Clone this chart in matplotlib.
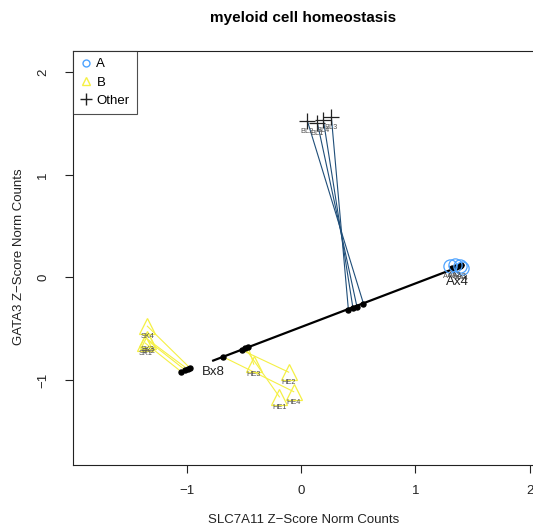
import matplotlib
matplotlib.use("Agg")
import matplotlib.pyplot as plt
from matplotlib.lines import Line2D

plt.rcParams["font.family"] = ["Liberation Sans", "DejaVu Sans"]

# samples: group, label, position, fitted position on the curve
groups = ["A", "A", "A", "A",
          "B", "B", "B", "B", "B", "B", "B", "B",
          "Other", "Other", "Other", "Other"]
sample_labels = ["AA1", "AA2", "AA3", "AA4",
                 "SK4", "SK3", "SK2", "SK1", "HE3", "HE2", "HE1", "HE4",
                 "BL2", "BL1", "BL4", "BL3"]
slc7a11 = [1.30, 1.35, 1.39, 1.41,
           -1.346, -1.346, -1.337, -1.364, -0.415, -0.109, -0.190, -0.065,
           0.055, 0.143, 0.195, 0.265]
gata3 = [0.11, 0.12, 0.11, 0.09,
         -0.475, -0.601, -0.620, -0.640, -0.845, -0.923, -1.164, -1.113,
         1.526, 1.504, 1.533, 1.562]
fit_x = [1.32, 1.36, 1.39, 1.40,
         -0.969, -0.993, -1.013, -1.048, -0.464, -0.517, -0.488, -0.683,
         0.546, 0.489, 0.454, 0.414]
fit_y = [0.09, 0.10, 0.11, 0.12,
         -0.887, -0.894, -0.904, -0.920, -0.676, -0.709, -0.692, -0.774,
         -0.255, -0.285, -0.299, -0.314]

# principal curve
curve_x = [-0.77, 1.42]
curve_y = [-0.81, 0.12]
curve_labels = ["Bx8", "Ax4"]

marker_col = {"A": "#4DA3FF", "B": "#F5F044", "Other": "#222222"}
line_col = {"A": "#3C78C8", "B": "#F5F044", "Other": "#1F4E79"}
marker = {"A": "o", "B": "^", "Other": "+"}
msize = {"A": 9.5, "B": 11, "Other": 12}

fig = plt.figure(figsize=(5.33, 5.31), dpi=100)
ax = fig.add_axes([72.7 / 533, 66 / 531, 462.3 / 533, 414 / 531])

for g, x0, y0, x1, y1 in zip(groups, slc7a11, gata3, fit_x, fit_y):
    ax.plot([x0, x1], [y0, y1], color=line_col[g], lw=0.8, zorder=2)

ax.plot(curve_x, curve_y, color="black", lw=1.6, zorder=3)
ax.plot(fit_x, fit_y, "o", color="black", ms=3.6, zorder=4)

for g in ["A", "B", "Other"]:
    xs = [x for x, gg in zip(slc7a11, groups) if gg == g]
    ys = [y for y, gg in zip(gata3, groups) if gg == g]
    ax.plot(xs, ys, marker[g], ms=msize[g], mfc="none", mec=marker_col[g],
            mew=0.9, color=marker_col[g], zorder=5)

for lab, x, y in zip(sample_labels, slc7a11, gata3):
    ax.annotate(lab, (x, y), xytext=(0, -7.5), textcoords="offset points",
                ha="center", va="center", fontsize=5.3, color="#505050", zorder=6)

ax.annotate(curve_labels[0], (curve_x[0], curve_y[0]), xytext=(0, -8),
            textcoords="offset points", ha="center", va="center",
            fontsize=9.5, color="#222222", zorder=6)
ax.annotate(curve_labels[1], (curve_x[1], curve_y[1]), xytext=(-4, -12),
            textcoords="offset points", ha="center", va="center",
            fontsize=9.5, color="#222222", zorder=6)

ax.set_xlim(-2.0, 2.048)
ax.set_ylim(-1.828, 2.208)
ax.set_xticks([-1, 0, 1, 2])
ax.set_yticks([-1, 0, 1, 2])
ax.tick_params(axis="both", direction="out", length=5.8, width=0.8,
               labelsize=9.5, colors="#222222")
ax.tick_params(axis="x", pad=8.5)
ax.tick_params(axis="y", pad=11)
for lab in ax.get_yticklabels():
    lab.set_rotation(90)
    lab.set_va("center")
for sp in ax.spines.values():
    sp.set_linewidth(0.8)
    sp.set_color("#222222")

fig.text(303.5 / 533, 1 - 18 / 531, "myeloid cell homeostasis", ha="center",
         va="center", fontsize=11, fontweight="bold")
fig.text(303.7 / 533, 1 - 520 / 531, "SLC7A11 Z\u2212Score Norm Counts",
         ha="center", va="center", fontsize=9.5, color="#222222")
fig.text(18.8 / 533, 1 - 257 / 531, "GATA3 Z\u2212Score Norm Counts",
         ha="center", va="center", rotation=90, fontsize=9.5, color="#222222")

handles = [
    Line2D([], [], ls="none", marker="o", ms=5, mfc="none", mec=marker_col["A"]),
    Line2D([], [], ls="none", marker="^", ms=6, mfc="none", mec=marker_col["B"]),
    Line2D([], [], ls="none", marker="+", ms=8, mec="#222222"),
]
leg = ax.legend(handles, ["A", "B", "Other"], loc="upper left", fontsize=9.5,
                frameon=True, fancybox=False, edgecolor="#222222",
                borderaxespad=0, borderpad=0.55, handlelength=0.9,
                handletextpad=0.35, labelspacing=0.45)
leg.get_frame().set_linewidth(0.8)

fig.savefig("out.png", dpi=100)
plt.close(fig)
